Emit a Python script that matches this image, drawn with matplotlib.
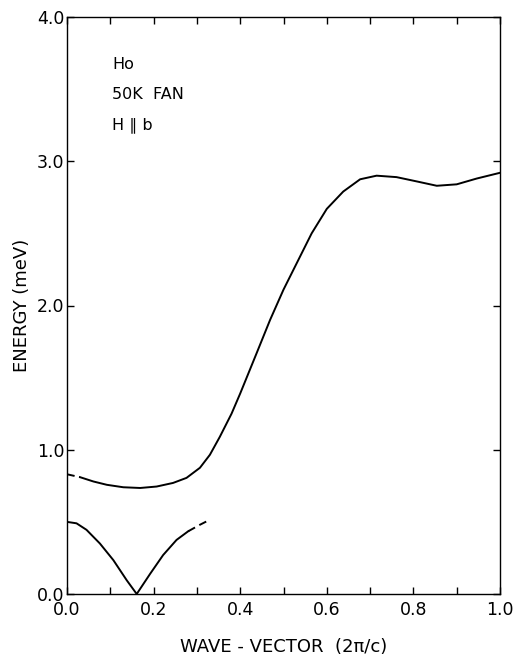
import matplotlib.pyplot as plt

# upper branch: dashed near q=0, then solid
up_dash_q = [0.0, 0.015, 0.03]
up_dash_e = [0.83, 0.82, 0.81]
up_q = [0.03, 0.061, 0.092, 0.13, 0.169, 0.207, 0.245, 0.276, 0.307, 0.33, 0.353, 0.38, 0.40,
        0.438, 0.469, 0.50, 0.53, 0.565, 0.60, 0.638, 0.677, 0.715, 0.761, 0.808, 0.854, 0.90,
        0.946, 1.0]
up_e = [0.81, 0.78, 0.757, 0.74, 0.735, 0.745, 0.77, 0.805, 0.875, 0.965, 1.09, 1.25, 1.39,
        1.67, 1.90, 2.11, 2.29, 2.50, 2.67, 2.79, 2.875, 2.90, 2.89, 2.86, 2.83, 2.84,
        2.88, 2.92]

# lower branch: solid, then dashed at the end
low_q = [0.0, 0.022, 0.045, 0.076, 0.107, 0.138, 0.161, 0.192, 0.222, 0.253, 0.28]
low_e = [0.50, 0.49, 0.445, 0.35, 0.235, 0.095, 0.0, 0.14, 0.27, 0.375, 0.435]
low_dash_q = [0.28, 0.307, 0.33]
low_dash_e = [0.435, 0.48, 0.515]

plt.rcParams['font.family'] = ['DejaVu Sans']
fig = plt.figure(figsize=(5.14, 6.56), dpi=100)
ax = fig.add_axes([67/514, 1 - 594/656, 433/514, 577/656])

ax.plot(up_dash_q, up_dash_e, color='black', lw=1.4, ls=(0, (4, 2.5)))
ax.plot(up_q, up_e, color='black', lw=1.4)
ax.plot(low_q, low_e, color='black', lw=1.4)
ax.plot(low_dash_q, low_dash_e, color='black', lw=1.4, ls=(0, (4, 2.5)))

ax.set_xlim(0, 1)
ax.set_ylim(0, 4)
ax.set_xticks([i / 10 for i in range(11)])
ax.set_xticklabels(['0.0', '', '0.2', '', '0.4', '', '0.6', '', '0.8', '', '1.0'])
ax.set_yticks([0, 1, 2, 3, 4])
ax.set_yticklabels(['0.0', '1.0', '2.0', '3.0', '4.0'])
ax.tick_params(direction='in', length=5, width=1, top=True, right=True, labelsize=12.5)
ax.tick_params(axis='x', pad=5)
ax.tick_params(axis='y', pad=2)
for s in ax.spines.values():
    s.set_linewidth(1)

ax.set_xlabel('WAVE - VECTOR  (2π/c)', fontsize=13, labelpad=14)
ax.set_ylabel('ENERGY (meV)', fontsize=13, labelpad=4)

ax.text(0.105, 3.67, 'Ho', fontsize=11.5, va='center')
ax.text(0.105, 3.46, '50K  FAN', fontsize=11.5, va='center')
ax.text(0.105, 3.25, 'H ∥ b', fontsize=11.5, va='center')

fig.savefig('out.png', dpi=100)
